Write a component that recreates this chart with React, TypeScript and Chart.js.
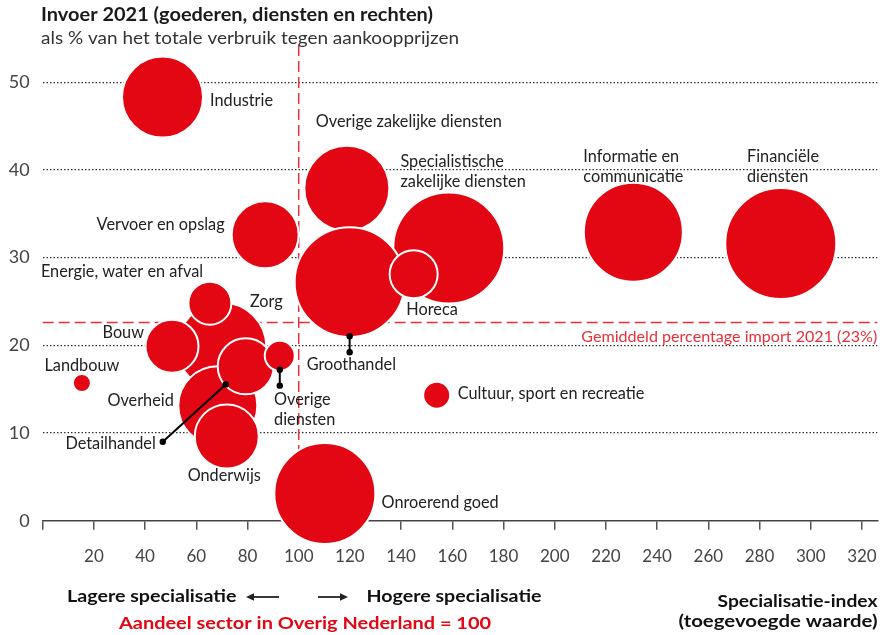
import React, { useEffect, useRef } from 'react';
import { Chart, registerables } from 'chart.js';

Chart.register(...registerables);

// ---------- DATA ----------
const sectors = [
  'Industrie',
  'Overige zakelijke diensten',
  'Specialistische zakelijke diensten',
  'Informatie en communicatie',
  'Financiële diensten',
  'Vervoer en opslag',
  'Groothandel',
  'Horeca',
  'Zorg',
  'Energie, water en afval',
  'Bouw',
  'Overheid',
  'Detailhandel',
  'Onderwijs',
  'Overige diensten',
  'Landbouw',
  'Cultuur, sport en recreatie',
  'Onroerend goed',
];
// Specialisatie-index (toegevoegde waarde), Overig Nederland = 100
const specIndex = [46.8, 118.8, 158.6, 230.7, 288.3, 86.9, 119.9, 144.9, 70.0, 65.3, 50.5, 68.4, 79.3, 71.9, 92.6, 15.3, 153.9, 110.2];
// Invoer als % van het totale verbruik
const importShare = [48.3, 37.9, 31.1, 32.9, 31.6, 32.6, 27.2, 28.1, 19.8, 24.8, 19.9, 13.1, 17.6, 9.6, 18.8, 15.7, 14.3, 3.1];
// bubble size (radius)
const bubbleSize = [40.5, 42.5, 55.5, 49.5, 55.5, 33.5, 55, 24, 44.5, 21.5, 26.5, 39.5, 28, 32, 15, 9, 13.5, 50.5];

const xTicks = [0, 20, 40, 60, 80, 100, 120, 140, 160, 180, 200, 220, 240, 260, 280, 300, 320];
const yTicks = [0, 10, 20, 30, 40, 50];
const averageImport = 22.6; // Gemiddeld percentage import 2021 (23%)
const baseIndex = 100;

const titleText = 'Invoer 2021 (goederen, diensten en rechten)';
const subtitleText = 'als % van het totale verbruik tegen aankoopprijzen';
const avgLabel = 'Gemiddeld percentage import 2021 (23%)';
const lowerText = 'Lagere specialisatie';
const higherText = 'Hogere specialisatie';
const baseText = 'Aandeel sector in Overig Nederland = 100';
const axisTitle = ['Specialisatie-index', '(toegevoegde waarde)'];

// leader lines: sector -> end point (data coords)
const leaderSectors = ['Detailhandel', 'Groothandel', 'Overige diensten'];
const leaderEndX = [46.9, 119.9, 92.6];
const leaderEndY = [9.0, 19.2, 15.4];

// ---------- STYLE / LAYOUT ----------
const RED = '#e30613';
const RED_LINE = '#e8303a';
const TEXT = '#222222';
const FONT = 'Lato, "Open Sans", sans-serif';

type LabelPos = { dx: number; dy: number; align: CanvasTextAlign; lines: string[]; fromLeader?: boolean };
// offsets relative to bubble centre (pixels), or to leader end
const labelLayout: LabelPos[] = [
  { dx: 47.5, dy: 9, align: 'left', lines: ['Industrie'] },
  { dx: -31, dy: -61, align: 'left', lines: ['Overige zakelijke diensten'] },
  { dx: -48.3, dy: -81.3, align: 'left', lines: ['Specialistische', 'zakelijke diensten'] },
  { dx: -50, dy: -69.8, align: 'left', lines: ['Informatie en', 'communicatie'] },
  { dx: -33.8, dy: -81.3, align: 'left', lines: ['Financiële', 'diensten'] },
  { dx: -40.5, dy: -4.3, align: 'right', lines: ['Vervoer en opslag'] },
  { dx: -43, dy: 18, align: 'left', lines: ['Groothandel'], fromLeader: true },
  { dx: -7.3, dy: 40.5, align: 'left', lines: ['Horeca'] },
  { dx: 28, dy: -40, align: 'left', lines: ['Zorg'] },
  { dx: -169, dy: -25.7, align: 'left', lines: ['Energie, water en afval'] },
  { dx: -28, dy: -8.3, align: 'right', lines: ['Bouw'] },
  { dx: -44, dy: 0, align: 'right', lines: ['Overheid'] },
  { dx: -7, dy: 7, align: 'right', lines: ['Detailhandel'], fromLeader: true },
  { dx: -2.5, dy: 44, align: 'center', lines: ['Onderwijs'] },
  { dx: -5.7, dy: 19, align: 'left', lines: ['Overige', 'diensten'], fromLeader: true },
  { dx: 0, dy: -12.3, align: 'center', lines: ['Landbouw'] },
  { dx: 21, dy: 4, align: 'left', lines: ['Cultuur, sport en recreatie'] },
  { dx: 56.7, dy: 14.3, align: 'left', lines: ['Onroerend goed'] },
];

function drawText(
  ctx: CanvasRenderingContext2D,
  str: string,
  x: number,
  y: number,
  opts: { size: number; weight?: string; color?: string; align?: CanvasTextAlign; width?: number }
) {
  ctx.save();
  ctx.font = `${opts.weight || 'normal'} ${opts.size}px ${FONT}`;
  ctx.fillStyle = opts.color || TEXT;
  ctx.textBaseline = 'alphabetic';
  const align = opts.align || 'left';
  if (opts.width) {
    const w = ctx.measureText(str).width;
    const s = Math.max(0.8, Math.min(1.2, opts.width / w));
    ctx.translate(x, y);
    ctx.scale(s, 1);
    ctx.textAlign = align;
    ctx.fillText(str, 0, 0);
  } else {
    ctx.textAlign = align;
    ctx.fillText(str, x, y);
  }
  ctx.restore();
}

function arrow(ctx: CanvasRenderingContext2D, x1: number, x2: number, y: number) {
  ctx.save();
  ctx.strokeStyle = TEXT;
  ctx.fillStyle = TEXT;
  ctx.lineWidth = 1.8;
  const dir = Math.sign(x2 - x1);
  ctx.beginPath();
  ctx.moveTo(x1, y);
  ctx.lineTo(x2 - dir * 6, y);
  ctx.stroke();
  ctx.beginPath();
  ctx.moveTo(x2, y);
  ctx.lineTo(x2 - dir * 8, y - 3.8);
  ctx.lineTo(x2 - dir * 8, y + 3.8);
  ctx.closePath();
  ctx.fill();
  ctx.restore();
}

const overlayPlugin = {
  id: 'overlay',
  beforeDatasetsDraw(chart: any) {
    const { ctx, chartArea, scales } = chart;
    const x = scales.x;
    const y = scales.y;
    ctx.save();
    ctx.strokeStyle = RED_LINE;
    ctx.lineWidth = 1.5;
    ctx.setLineDash([11, 5]);
    const yAvg = y.getPixelForValue(averageImport);
    ctx.beginPath();
    ctx.moveTo(chartArea.left, yAvg);
    ctx.lineTo(chartArea.right, yAvg);
    ctx.stroke();
    const xb = x.getPixelForValue(baseIndex);
    ctx.beginPath();
    ctx.moveTo(xb, chartArea.top - 2);
    ctx.lineTo(xb, chartArea.bottom);
    ctx.stroke();
    ctx.restore();
    drawText(ctx, avgLabel, chartArea.right, yAvg + 20, { size: 15.5, color: RED_LINE, align: 'right', width: 296 });
  },
  afterDatasetsDraw(chart: any) {
    const { ctx, scales } = chart;
    const x = scales.x;
    const y = scales.y;

    // leader lines
    const leaderEnds: Record<string, [number, number]> = {};
    leaderSectors.forEach((s, i) => {
      const idx = sectors.indexOf(s);
      const cx = x.getPixelForValue(specIndex[idx]);
      const cy = y.getPixelForValue(importShare[idx]);
      const ex = x.getPixelForValue(leaderEndX[i]);
      const ey = y.getPixelForValue(leaderEndY[i]);
      const dx = ex - cx;
      const dy = ey - cy;
      const len = Math.hypot(dx, dy);
      const r = bubbleSize[idx] - 1;
      const sx = cx + (dx / len) * r;
      const sy = cy + (dy / len) * r;
      ctx.save();
      ctx.strokeStyle = '#000';
      ctx.fillStyle = '#000';
      ctx.lineWidth = 2;
      ctx.beginPath();
      ctx.moveTo(sx, sy);
      ctx.lineTo(ex, ey);
      ctx.stroke();
      [[sx, sy], [ex, ey]].forEach(([px, py]) => {
        ctx.beginPath();
        ctx.arc(px, py, 3.2, 0, Math.PI * 2);
        ctx.fill();
      });
      ctx.restore();
      leaderEnds[s] = [ex, ey];
    });

    // labels
    sectors.forEach((s, i) => {
      const L = labelLayout[i];
      let bx: number, by: number;
      if (L.fromLeader && leaderEnds[s]) {
        [bx, by] = leaderEnds[s];
      } else {
        bx = x.getPixelForValue(specIndex[i]);
        by = y.getPixelForValue(importShare[i]);
      }
      L.lines.forEach((line, k) => {
        drawText(ctx, line, bx + L.dx, by + L.dy + k * 20, { size: 16.3, align: L.align });
      });
    });
  },
  afterDraw(chart: any) {
    const { ctx } = chart;
    drawText(ctx, titleText, 41, 21, { size: 18, weight: 'bold', color: '#1a1a1a', width: 392 });
    drawText(ctx, subtitleText, 41, 43.5, { size: 18, color: '#333', width: 418 });

    drawText(ctx, lowerText, 67, 602, { size: 17.5, weight: 'bold', color: '#111', width: 169.5 });
    arrow(ctx, 279, 246, 597);
    arrow(ctx, 318, 348, 597);
    drawText(ctx, higherText, 366.5, 602, { size: 17.5, weight: 'bold', color: '#111', width: 175 });
    drawText(ctx, baseText, 119, 629, { size: 17.5, weight: 'bold', color: RED, width: 372 });
    drawText(ctx, axisTitle[0], 877.5, 607, { size: 17, weight: 'bold', color: '#111', align: 'right', width: 160 });
    drawText(ctx, axisTitle[1], 877.5, 627, { size: 17, weight: 'bold', color: '#111', align: 'right', width: 199 });
  },
};

export default function App() {
  const ref = useRef<HTMLCanvasElement | null>(null);
  useEffect(() => {
    if (!ref.current) return;
    const chart = new Chart(ref.current, {
      type: 'bubble',
      data: {
        datasets: [
          {
            data: sectors.map((_, i) => ({ x: specIndex[i], y: importShare[i], r: bubbleSize[i] })),
            backgroundColor: RED,
            borderColor: '#ffffff',
            borderWidth: 2,
            clip: false as any,
          },
        ],
      },
      options: {
        animation: false,
        responsive: false,
        devicePixelRatio: 1,
        events: [],
        layout: { autoPadding: false, padding: { top: 47.1, right: 9.7, left: 0, bottom: 0 } },
        plugins: { legend: { display: false }, tooltip: { enabled: false }, title: { display: false } },
        scales: {
          x: {
            type: 'linear',
            min: 0,
            max: 326,
            afterFit: (s: any) => {
              s.height = 635 - 520.7;
              s.paddingLeft = 0;
              s.paddingRight = 0;
            },
            afterBuildTicks: (s: any) => {
              s.ticks = xTicks.map((v) => ({ value: v }));
            },
            grid: { drawOnChartArea: false, drawTicks: true, tickLength: 9, color: '#555', lineWidth: 1.5 },
            border: { display: true, color: '#444', width: 1.5 },
            ticks: {
              autoSkip: false,
              maxRotation: 0,
              padding: 17,
              color: '#444',
              font: { family: FONT, size: 17 },
              callback: (v: any) => (v === 0 ? '' : String(v)),
            },
          },
          y: {
            type: 'linear',
            min: 0,
            max: 54,
            afterFit: (s: any) => {
              s.width = 42.7;
              s.paddingTop = 0;
              s.paddingBottom = 0;
            },
            afterBuildTicks: (s: any) => {
              s.ticks = yTicks.map((v) => ({ value: v }));
            },
            grid: {
              drawTicks: false,
              color: (c: any) => (c.tick && c.tick.value === 0 ? 'rgba(0,0,0,0)' : '#333'),
              lineWidth: 1.2,
            },
            border: { display: false, dash: [1.5, 2] },
            ticks: {
              padding: 13,
              color: '#444',
              font: { family: FONT, size: 18 },
            },
          },
        },
      },
      plugins: [overlayPlugin],
    });
    return () => chart.destroy();
  }, []);
  return (
    <div style={{ position: 'absolute', left: 0, top: 0, width: 887, height: 635, background: '#fff' }}>
      <canvas ref={ref} width={887} height={635} style={{ display: 'block' }} />
    </div>
  );
}
